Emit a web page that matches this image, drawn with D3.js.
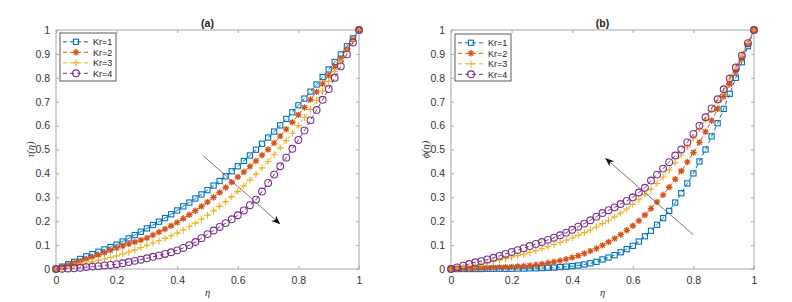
<!DOCTYPE html>
<html><head><meta charset="utf-8">
<script src="https://cdn.jsdelivr.net/npm/d3@7"></script>
<style>body{margin:0;background:#fff;} svg{display:block;}</style>
</head><body>
<svg id="c" width="792" height="302"></svg>
<script>
const eta = d3.range(51).map(i => +(i * 0.02).toFixed(2));
const seriesNames = ["Kr=1", "Kr=2", "Kr=3", "Kr=4"];
const xTicks = [0, 0.2, 0.4, 0.6, 0.8, 1];
const yTicks = [0, 0.1, 0.2, 0.3, 0.4, 0.5, 0.6, 0.7, 0.8, 0.9, 1];

// Panel (a): tau(eta)
const tauKr1 = [0,.01,.02,.03,.042,.053,.062,.072,.082,.092,.102,.115,.128,.142,.156,.17,.184,.198,.213,.229,.245,.262,.278,.295,.312,.33,.349,.368,.388,.409,.43,.452,.475,.499,.524,.55,.575,.601,.628,.656,.685,.713,.742,.772,.803,.835,.866,.898,.932,.965,1];
const tauKr2 = [0,.008,.016,.025,.033,.042,.05,.059,.069,.078,.088,.096,.105,.113,.121,.13,.142,.155,.167,.181,.195,.211,.227,.244,.262,.28,.3,.32,.341,.363,.385,.406,.429,.452,.476,.5,.527,.556,.585,.614,.645,.676,.709,.741,.775,.81,.845,.882,.92,.96,1];
const tauKr3 = [0,.004,.009,.014,.02,.025,.03,.036,.042,.048,.055,.063,.071,.08,.09,.1,.109,.118,.128,.139,.15,.163,.177,.192,.208,.225,.243,.262,.282,.303,.325,.348,.372,.397,.423,.45,.478,.507,.537,.568,.6,.634,.668,.705,.744,.785,.826,.868,.911,.955,1];
const tauKr4 = [0,.001,.002,.003,.005,.008,.01,.012,.015,.017,.02,.024,.029,.034,.039,.045,.051,.057,.063,.07,.078,.088,.1,.113,.129,.146,.161,.176,.192,.208,.225,.245,.267,.29,.324,.36,.395,.43,.466,.503,.54,.58,.622,.665,.708,.753,.8,.848,.898,.948,1];

// Panel (b): phi(eta)
const phiKr1 = [0,0,0,0,0,0,.001,.001,.001,.001,.001,.002,.002,.003,.003,.004,.005,.006,.008,.01,.012,.015,.019,.024,.03,.04,.048,.058,.07,.083,.097,.115,.137,.16,.185,.213,.243,.278,.317,.358,.4,.45,.5,.555,.61,.67,.733,.8,.865,.932,1];
const phiKr2 = [0,0,.001,.002,.003,.004,.005,.006,.007,.008,.009,.011,.013,.015,.018,.021,.025,.03,.035,.041,.048,.056,.065,.075,.086,.099,.113,.128,.144,.162,.181,.202,.226,.253,.28,.31,.342,.376,.41,.448,.487,.53,.574,.62,.67,.722,.773,.826,.88,.94,1];
const phiKr3 = [0,.004,.008,.012,.016,.02,.026,.032,.037,.043,.05,.056,.062,.069,.077,.085,.093,.102,.111,.12,.13,.141,.152,.163,.176,.19,.204,.218,.234,.251,.27,.29,.311,.333,.358,.385,.414,.444,.477,.51,.547,.585,.625,.665,.705,.745,.795,.845,.895,.947,1];
const phiKr4 = [0,.007,.014,.021,.028,.033,.04,.047,.055,.063,.071,.079,.087,.096,.105,.113,.122,.131,.141,.152,.164,.177,.19,.204,.219,.234,.246,.258,.272,.285,.30,.32,.34,.37,.395,.42,.447,.475,.5,.53,.565,.6,.635,.672,.71,.752,.797,.843,.892,.945,1];

const colors = ["#0072BD", "#D95319", "#EDB120", "#7E2F8E"];
const markers = ["square", "asterisk", "plus", "circle"];

const panels = [
  {title: "(a)", ylab: "\u03C4(\u03B7)", left: 56, right: 359, series: [tauKr1, tauKr2, tauKr3, tauKr4],
   arrow: [[0.486, 0.474], [0.738, 0.19]], legend: {x: 60, y: 33, w: 56, h: 48}},
  {title: "(b)", ylab: "\u03D5(\u03B7)", left: 451, right: 754, series: [phiKr1, phiKr2, phiKr3, phiKr4],
   arrow: [[0.80, 0.143], [0.511, 0.462]], legend: {x: 455, y: 34, w: 56, h: 47}}
];
const plotTop = 30, plotBottom = 269;

const svg = d3.select("#c");
const defs = svg.append("defs");
defs.append("marker").attr("id", "ah").attr("viewBox", "0 0 10 10").attr("refX", 9).attr("refY", 5)
  .attr("markerWidth", 9).attr("markerHeight", 9).attr("markerUnits", "userSpaceOnUse").attr("orient", "auto")
  .append("path").attr("d", "M0,1 L10,5 L0,9 L3,5 Z").attr("fill", "#111");

function drawMarker(g, type, x, y, col) {
  if (type === "square") {
    g.append("rect").attr("x", x - 2.6).attr("y", y - 2.6).attr("width", 5.2).attr("height", 5.2)
      .attr("fill", "none").attr("stroke", col).attr("stroke-width", 1.1);
  } else if (type === "circle") {
    g.append("circle").attr("cx", x).attr("cy", y).attr("r", 3.4)
      .attr("fill", "none").attr("stroke", col).attr("stroke-width", 1.1);
  } else if (type === "plus") {
    g.append("path").attr("d", `M${x-3.4},${y}H${x+3.4}M${x},${y-3.4}V${y+3.4}`)
      .attr("stroke", col).attr("stroke-width", 1.1);
  } else {
    const r = 3.2, d = 2.3;
    g.append("path").attr("d", `M${x-r},${y}H${x+r}M${x},${y-r}V${y+r}M${x-d},${y-d}L${x+d},${y+d}M${x-d},${y+d}L${x+d},${y-d}`)
      .attr("stroke", col).attr("stroke-width", 1.3);
  }
}

panels.forEach(p => {
  const x = d3.scaleLinear().domain([0, 1]).range([p.left, p.right]);
  const y = d3.scaleLinear().domain([0, 1]).range([plotBottom, plotTop]);
  const g = svg.append("g");

  g.append("rect").attr("x", p.left).attr("y", plotTop).attr("width", p.right - p.left).attr("height", plotBottom - plotTop)
    .attr("fill", "#fff").attr("stroke", "#a6a6a6").attr("stroke-width", 1);

  const ax = (axis, tr) => {
    const a = g.append("g").attr("transform", tr).call(axis);
    a.select(".domain").remove();
    a.selectAll(".tick line").attr("stroke", "#a6a6a6");
    a.selectAll("text").attr("fill", "#333").style("font-family", "Liberation Sans, Arial, sans-serif").style("font-size", "10.5px");
    return a;
  };
  ax(d3.axisBottom(x).tickValues(xTicks).tickSizeInner(-3).tickSizeOuter(0).tickPadding(8).tickFormat(d3.format("")), `translate(0,${plotBottom})`);
  ax(d3.axisTop(x).tickValues(xTicks).tickSizeInner(-3).tickSizeOuter(0).tickFormat(""), `translate(0,${plotTop})`);
  ax(d3.axisLeft(y).tickValues(yTicks).tickSizeInner(-3).tickSizeOuter(0).tickPadding(6).tickFormat(d3.format("")), `translate(${p.left},0)`);
  ax(d3.axisRight(y).tickValues(yTicks).tickSizeInner(-3).tickSizeOuter(0).tickFormat(""), `translate(${p.right},0)`);

  p.series.forEach((vals, k) => {
    const line = d3.line().x((d, i) => x(eta[i])).y(d => y(d));
    g.append("path").datum(vals).attr("d", line).attr("fill", "none").attr("stroke", colors[k])
      .attr("stroke-width", 1).attr("stroke-dasharray", "4,3");
    const mg = g.append("g");
    vals.forEach((v, i) => drawMarker(mg, markers[k], x(eta[i]), y(v), colors[k]));
  });

  g.append("line").attr("x1", x(p.arrow[0][0])).attr("y1", y(p.arrow[0][1]))
    .attr("x2", x(p.arrow[1][0])).attr("y2", y(p.arrow[1][1]))
    .attr("stroke", "#555").attr("stroke-width", 0.8).attr("marker-end", "url(#ah)");

  g.append("text").attr("x", (p.left + p.right) / 2).attr("y", 27).attr("text-anchor", "middle")
    .style("font-family", "Liberation Sans, Arial, sans-serif").style("font-size", "10.5px").style("font-weight", "bold")
    .attr("fill", "#222").text(p.title);
  g.append("text").attr("x", (p.left + p.right) / 2).attr("y", 296).attr("text-anchor", "middle")
    .style("font-family", "Liberation Serif, serif").style("font-style", "italic").style("font-size", "10.5px")
    .attr("fill", "#333").text("\u03B7");
  g.append("text").attr("transform", `translate(${p.left - 22},${(plotTop + plotBottom) / 2}) rotate(-90)`).attr("text-anchor", "middle")
    .style("font-family", "Liberation Serif, serif").style("font-style", "italic").style("font-size", "10.5px")
    .attr("fill", "#333").text(p.ylab);

  const L = p.legend;
  const lg = g.append("g");
  lg.append("rect").attr("x", L.x).attr("y", L.y).attr("width", L.w).attr("height", L.h)
    .attr("fill", "#fff").attr("stroke", "#333").attr("stroke-width", 0.8);
  seriesNames.forEach((nm, k) => {
    const ly = L.y + 8.8 + k * 10.5;
    lg.append("line").attr("x1", L.x + 3).attr("x2", L.x + 29).attr("y1", ly).attr("y2", ly)
      .attr("stroke", colors[k]).attr("stroke-width", 1).attr("stroke-dasharray", "4,3");
    drawMarker(lg, markers[k], L.x + 16, ly, colors[k]);
    lg.append("text").attr("x", L.x + 33).attr("y", ly + 3.3)
      .style("font-family", "Liberation Sans, Arial, sans-serif").style("font-size", "9px").attr("fill", "#222").text(nm);
  });
});
</script>
</body></html>
